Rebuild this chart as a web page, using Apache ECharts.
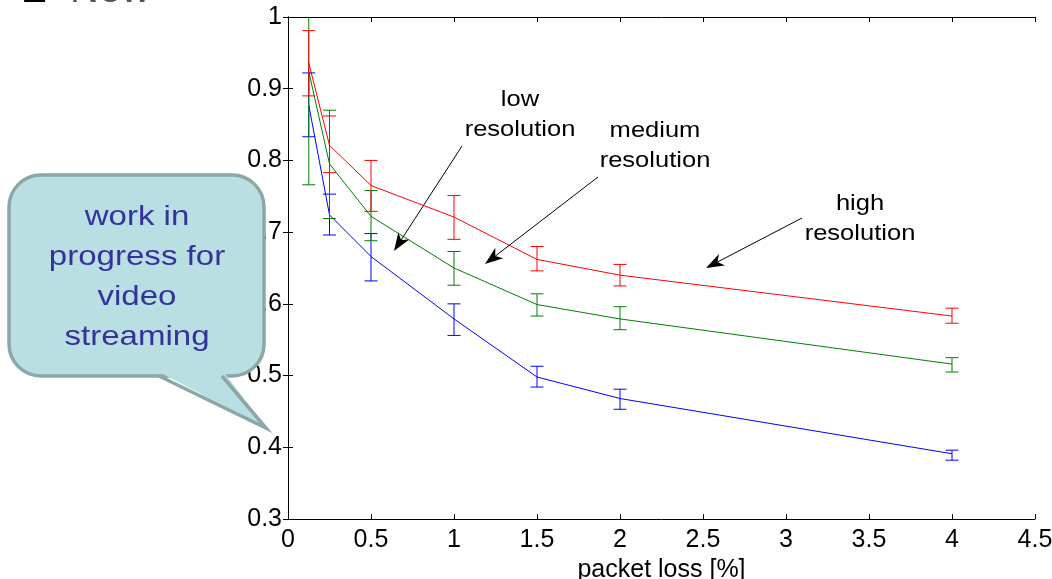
<!DOCTYPE html>
<html>
<head>
<meta charset="utf-8">
<title>Quality vs packet loss</title>
<script src="https://cdn.jsdelivr.net/npm/echarts@6/dist/echarts.min.js"></script>
<style>
  html, body { margin: 0; padding: 0; background: #ffffff; }
  #chart { width: 1052px; height: 579px; }
</style>
</head>
<body>
<div id="chart"></div>
<script>
// Packet loss levels [%]
const lossLevels = [0.125, 0.25, 0.5, 1, 1.5, 2, 4];

// High resolution: mean score and error-bar bounds
const highMean  = [0.936, 0.821, 0.765, 0.721, 0.662, 0.640, 0.583];
const highLower = [0.890, 0.783, 0.729, 0.690, 0.646, 0.625, 0.573];
const highUpper = [0.981, 0.862, 0.800, 0.751, 0.680, 0.655, 0.594];

// Medium resolution
const medMean  = [0.924, 0.795, 0.722, 0.650, 0.599, 0.579, 0.516];
const medLower = [0.766, 0.719, 0.688, 0.626, 0.583, 0.564, 0.505];
const medUpper = [1.082, 0.870, 0.758, 0.673, 0.614, 0.596, 0.525];

// Low resolution
const lowMean  = [0.877, 0.724, 0.666, 0.579, 0.498, 0.468, 0.391];
const lowLower = [0.833, 0.696, 0.632, 0.556, 0.484, 0.453, 0.382];
const lowUpper = [0.922, 0.753, 0.698, 0.600, 0.513, 0.481, 0.396];

// Axis settings
const xMin = 0, xMax = 4.5, xStep = 0.5;
const yMin = 0.3, yMax = 1, yStep = 0.1;
const xAxisTitle = 'packet loss [%]';

// Callout and annotation texts
const bubbleLines = ['work in', 'progress for', 'video', 'streaming'];
const annotations = [
  { lines: ['low', 'resolution'], cx: 520, cy: 100, from: [462, 146], to: [394, 251] },
  { lines: ['medium', 'resolution'], cx: 655, cy: 131, from: [598, 177], to: [485, 264] },
  { lines: ['high', 'resolution'], cx: 860, cy: 204, from: [802, 218], to: [706, 268] }
];

const FONT = '"Liberation Sans", Arial, sans-serif';

function lineData(mean) {
  return lossLevels.map((x, i) => [x, mean[i]]);
}
function barData(lower, upper) {
  return lossLevels.map((x, i) => [x, lower[i], upper[i]]);
}

function errorBarRenderer(color) {
  return function (params, api) {
    const x = api.value(0);
    const lo = api.coord([x, api.value(1)]);
    const hi = api.coord([x, api.value(2)]);
    const hw = 6.5;
    const style = { stroke: color, lineWidth: 1 };
    return {
      type: 'group',
      children: [
        { type: 'line', shape: { x1: lo[0], y1: lo[1], x2: hi[0], y2: hi[1] }, style },
        { type: 'line', shape: { x1: hi[0] - hw, y1: hi[1], x2: hi[0] + hw, y2: hi[1] }, style },
        { type: 'line', shape: { x1: lo[0] - hw, y1: lo[1], x2: lo[0] + hw, y2: lo[1] }, style }
      ]
    };
  };
}

function lineSeries(mean, color) {
  return {
    type: 'line', data: lineData(mean), symbol: 'none',
    lineStyle: { color, width: 1 }, itemStyle: { color },
    silent: true, animation: false, z: 3
  };
}
function barSeries(lower, upper, color) {
  return {
    type: 'custom', data: barData(lower, upper),
    renderItem: errorBarRenderer(color),
    encode: { x: 0, y: [1, 2] },
    clip: true, silent: true, animation: false, z: 4
  };
}

// Arrow with a notched MATLAB-style head
function arrow(from, to) {
  const dx = to[0] - from[0], dy = to[1] - from[1];
  const len = Math.hypot(dx, dy);
  const ux = dx / len, uy = dy / len;
  const px = -uy, py = ux;
  const headLen = 18, halfW = 6.5, notch = 13;
  const bx = to[0] - ux * headLen, by = to[1] - uy * headLen;
  const nx = to[0] - ux * notch, ny = to[1] - uy * notch;
  return [
    { type: 'line', z: 50, shape: { x1: from[0], y1: from[1], x2: nx, y2: ny },
      style: { stroke: '#000', lineWidth: 1 } },
    { type: 'polygon', z: 50,
      shape: { points: [to, [bx + px * halfW, by + py * halfW], [nx, ny], [bx - px * halfW, by - py * halfW]] },
      style: { fill: '#000' } }
  ];
}

const graphics = [];

// Heading running off the top edge
graphics.push({ type: 'text', x: 22, y: 11, z: 60,
  style: { text: 'Σ', font: '40px ' + FONT, fill: '#000', textVerticalAlign: 'bottom' } });
graphics.push({ type: 'text', x: 70, y: 11, z: 60,
  style: { text: 'New', font: '40px ' + FONT, fill: '#555', textVerticalAlign: 'bottom' } });

// Annotation labels and arrows
annotations.forEach(a => {
  a.lines.forEach((t, i) => {
    graphics.push({ type: 'text', x: a.cx, y: a.cy + i * 30, scaleX: 1.16, z: 50,
      style: { text: t, x: 0, y: 0, font: '22px ' + FONT, fill: '#000',
               textAlign: 'center', textVerticalAlign: 'middle' } });
  });
  arrow(a.from, a.to).forEach(g => graphics.push(g));
});

// Speech-bubble callout
const bubbleFill = '#b9dfe3', bubbleStroke = '#8ba7a9';
graphics.push({ type: 'rect', z: 100,
  shape: { x: 9, y: 175, width: 255, height: 201, r: 32 },
  style: { fill: bubbleFill, stroke: bubbleStroke, lineWidth: 3.5 } });
graphics.push({ type: 'polygon', z: 101,
  shape: { points: [[157, 371], [266, 428], [223, 371]] },
  style: { fill: bubbleFill } });
graphics.push({ type: 'polyline', z: 102,
  shape: { points: [[159, 376], [266, 428], [222, 376]] },
  style: { stroke: bubbleStroke, lineWidth: 3.5, fill: null, lineJoin: 'miter' } });
bubbleLines.forEach((t, i) => {
  graphics.push({ type: 'text', x: 137, y: 217 + i * 40, scaleX: 1.18, z: 103,
    style: { text: t, x: 0, y: 0, font: '28px ' + FONT, fill: '#33339a',
             textAlign: 'center', textVerticalAlign: 'middle' } });
});

const axisLineStyle = { show: true, lineStyle: { color: '#000', width: 1 } };
const tickStyle = { show: true, inside: true, length: 5, lineStyle: { color: '#000', width: 1 } };

const option = {
  animation: false,
  backgroundColor: '#ffffff',
  grid: { left: 288, right: 17, top: 17, bottom: 60, containLabel: false, outerBoundsMode: 'none' },
  xAxis: [
    {
      type: 'value', min: xMin, max: xMax, interval: xStep, position: 'bottom',
      axisLine: axisLineStyle, axisTick: tickStyle, splitLine: { show: false },
      axisLabel: { color: '#000', fontSize: 25, fontFamily: FONT, margin: 9,
                   showMinLabel: true, showMaxLabel: true },
      name: xAxisTitle, nameLocation: 'middle', nameGap: 37,
      nameTextStyle: { color: '#000', fontSize: 25, fontFamily: FONT }
    },
    {
      type: 'value', min: xMin, max: xMax, interval: xStep, position: 'top',
      axisLine: axisLineStyle, axisTick: tickStyle, splitLine: { show: false },
      axisLabel: { show: false }
    }
  ],
  yAxis: [
    {
      type: 'value', min: yMin, max: yMax, interval: yStep, position: 'left',
      axisLine: axisLineStyle, axisTick: tickStyle, splitLine: { show: false },
      axisLabel: { color: '#000', fontSize: 25, fontFamily: FONT, margin: 6,
                   showMinLabel: true, showMaxLabel: true }
    },
    {
      type: 'value', min: yMin, max: yMax, interval: yStep, position: 'right',
      axisLine: axisLineStyle, axisTick: tickStyle, splitLine: { show: false },
      axisLabel: { show: false }
    }
  ],
  series: [
    lineSeries(lowMean, '#0000ff'),
    barSeries(lowLower, lowUpper, '#0000ff'),
    lineSeries(medMean, '#008000'),
    barSeries(medLower, medUpper, '#008000'),
    lineSeries(highMean, '#ff0000'),
    barSeries(highLower, highUpper, '#ff0000')
  ],
  graphic: { elements: graphics }
};

const chart = echarts.init(document.getElementById('chart'), null, { renderer: 'canvas' });
chart.setOption(option);
</script>
</body>
</html>
